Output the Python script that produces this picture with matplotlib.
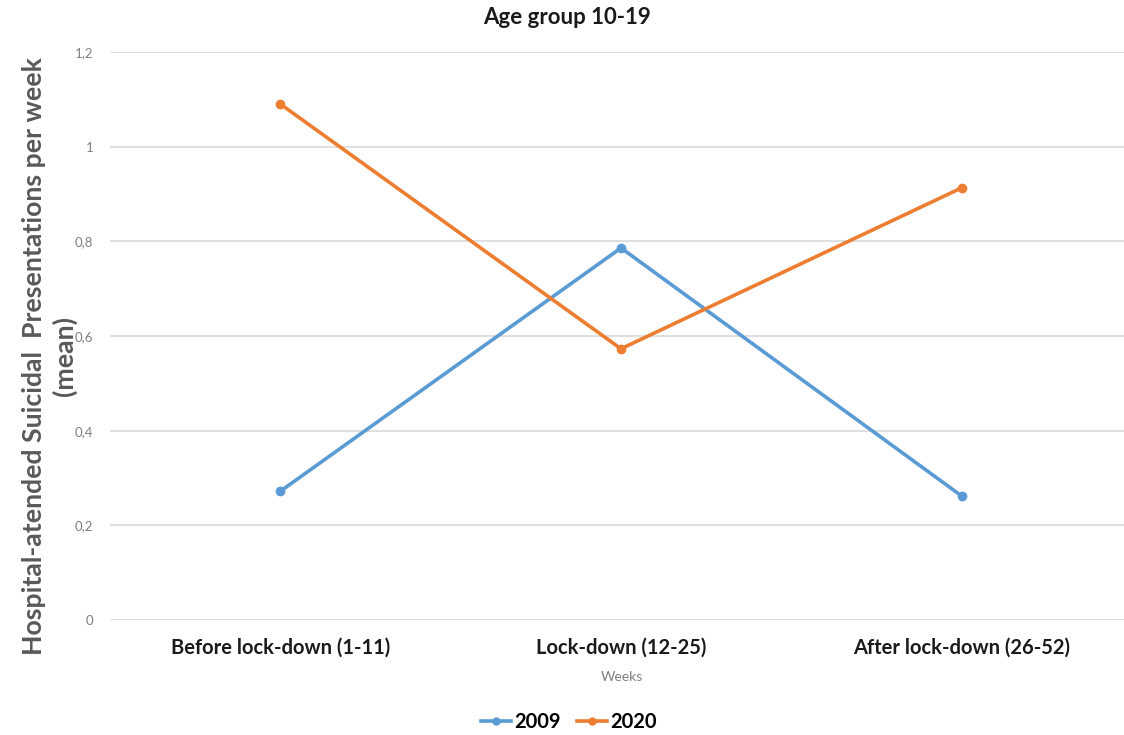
import matplotlib
matplotlib.use("Agg")
import matplotlib.pyplot as plt
from matplotlib.lines import Line2D

categories = ["Before lock-down (1-11)", "Lock-down (12-25)", "After lock-down (26-52)"]
series_2009 = [0.272, 0.786, 0.262]
series_2020 = [1.090, 0.573, 0.913]
yticks = [0, 0.2, 0.4, 0.6, 0.8, 1.0, 1.2]
ytick_labels = ["0", "0,2", "0,4", "0,6", "0,8", "1", "1,2"]

plt.rcParams["font.family"] = ["Lato", "DejaVu Sans"]

W, H = 1124, 735
fig = plt.figure(figsize=(W / 100, H / 100), dpi=100)
left, right, bottom, top = 110, 1132, 620, 52
ax = fig.add_axes([left / W, 1 - bottom / H, (right - left) / W, (bottom - top) / H])

blue = "#5B9BD5"
orange = "#ED7D31"
x = range(len(categories))
ax.plot(x, series_2009, color=blue, lw=2.6, marker="o", ms=6, label="2009", solid_capstyle="round")
ax.plot(x, series_2020, color=orange, lw=2.6, marker="o", ms=6, label="2020", solid_capstyle="round")

ax.set_xlim(-0.5, 2.5)
ax.set_ylim(0, 1.2)
ax.set_yticks(yticks)
ax.set_yticklabels(ytick_labels, color="#7f7f7f", fontsize=9.5)
ax.set_xticks(list(x))
ax.set_xticklabels(categories, fontsize=14.5, fontweight="bold", color="#1a1a1a")
ax.tick_params(axis="both", length=0)
ax.tick_params(axis="x", pad=13)
ax.tick_params(axis="y", pad=12)
ax.grid(axis="y", color="#d9d9d9", lw=1.2)
ax.set_axisbelow(True)
for s in ax.spines.values():
    s.set_visible(False)

fig.text(567 / W, 1 - 18 / H, "Age group 10-19", ha="center", va="center",
         fontsize=16, fontweight="bold", color="#1a1a1a")
fig.text(622 / W, 1 - 677 / H, "Weeks", ha="center", va="center", fontsize=10, color="#7f7f7f")
fig.text(34 / W, 1 - 356 / H, "Hospital-atended Suicidal  Presentations per week", rotation=90,
         ha="center", va="center", fontsize=19.2, fontweight="bold", color="#595959")
fig.text(64 / W, 1 - 356 / H, "(mean)", rotation=90,
         ha="center", va="center", fontsize=19.2, fontweight="bold", color="#595959")

handles = [Line2D([], [], color=blue, lw=2.6, marker="o", ms=5),
           Line2D([], [], color=orange, lw=2.6, marker="o", ms=5)]
fig.legend(handles, ["2009", "2020"], loc="center", bbox_to_anchor=(569 / W, 1 - 722 / H),
           ncol=2, frameon=False, handlelength=1.5, handletextpad=0.15, columnspacing=0.8,
           prop={"size": 14.5, "weight": "bold"})

fig.savefig("out.png", dpi=100)
